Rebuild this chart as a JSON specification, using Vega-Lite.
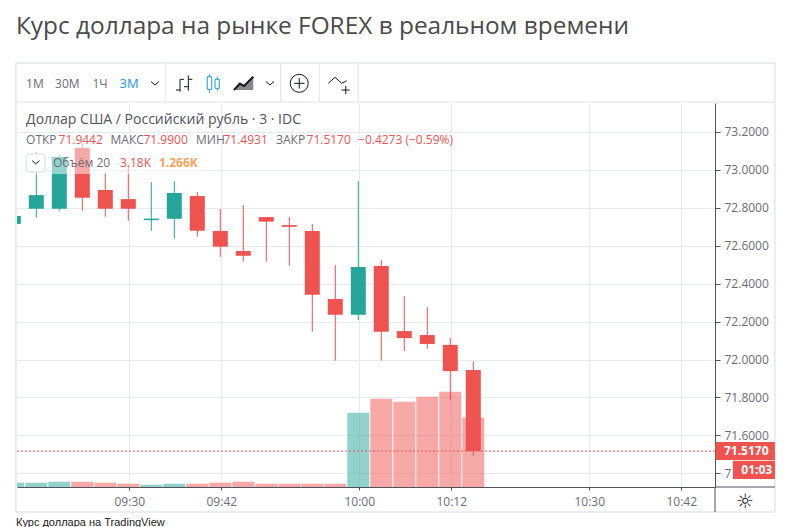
{
  "$schema": "https://vega.github.io/schema/vega-lite/v6.json",
  "width": 698,
  "height": 384,
  "autosize": "none",
  "padding": {"left": 17, "top": 103, "right": 78, "bottom": 40},
  "background": "white",
  "title": {
    "text": "Курс доллара на рынке FOREX в реальном времени",
    "anchor": "start",
    "frame": "group",
    "dx": -1,
    "offset": 4,
    "font": "Open Sans",
    "fontSize": 24.4,
    "fontWeight": "normal",
    "color": "#4a4a4a",
    "baseline": "alphabetic"
  },
  "config": {
    "view": {"stroke": null},
    "text": {"font": "Open Sans", "align": "left", "baseline": "middle"}
  },
  "datasets": {
    "candles": [
      {"t": "2020-03-10T09:15:00", "open": 72.715, "high": 72.757, "low": 72.715, "close": 72.757, "volume": 197, "dir": "up"},
      {"t": "2020-03-10T09:18:00", "open": 72.795, "high": 73.096, "low": 72.748, "close": 72.867, "volume": 197, "dir": "up"},
      {"t": "2020-03-10T09:21:00", "open": 72.795, "high": 73.08, "low": 72.785, "close": 73.068, "volume": 243, "dir": "up"},
      {"t": "2020-03-10T09:24:00", "open": 73.115, "high": 73.14, "low": 72.785, "close": 72.853, "volume": 243, "dir": "down"},
      {"t": "2020-03-10T09:27:00", "open": 72.894, "high": 72.989, "low": 72.753, "close": 72.795, "volume": 197, "dir": "down"},
      {"t": "2020-03-10T09:30:00", "open": 72.846, "high": 73.026, "low": 72.732, "close": 72.795, "volume": 150, "dir": "down"},
      {"t": "2020-03-10T09:33:00", "open": 72.735, "high": 72.936, "low": 72.679, "close": 72.743, "volume": 105, "dir": "up"},
      {"t": "2020-03-10T09:36:00", "open": 72.742, "high": 72.941, "low": 72.637, "close": 72.878, "volume": 150, "dir": "up"},
      {"t": "2020-03-10T09:39:00", "open": 72.862, "high": 72.883, "low": 72.648, "close": 72.679, "volume": 150, "dir": "down"},
      {"t": "2020-03-10T09:42:00", "open": 72.678, "high": 72.794, "low": 72.542, "close": 72.595, "volume": 197, "dir": "down"},
      {"t": "2020-03-10T09:45:00", "open": 72.572, "high": 72.815, "low": 72.516, "close": 72.547, "volume": 243, "dir": "down"},
      {"t": "2020-03-10T09:48:00", "open": 72.751, "high": 72.751, "low": 72.516, "close": 72.727, "volume": 150, "dir": "down"},
      {"t": "2020-03-10T09:51:00", "open": 72.709, "high": 72.751, "low": 72.495, "close": 72.7, "volume": 150, "dir": "down"},
      {"t": "2020-03-10T09:54:00", "open": 72.678, "high": 72.715, "low": 72.147, "close": 72.342, "volume": 150, "dir": "down"},
      {"t": "2020-03-10T09:57:00", "open": 72.319, "high": 72.498, "low": 71.994, "close": 72.236, "volume": 150, "dir": "down"},
      {"t": "2020-03-10T10:00:00", "open": 72.236, "high": 72.941, "low": 72.208, "close": 72.488, "volume": 3408, "dir": "up"},
      {"t": "2020-03-10T10:03:00", "open": 72.493, "high": 72.525, "low": 71.994, "close": 72.147, "volume": 4050, "dir": "down"},
      {"t": "2020-03-10T10:06:00", "open": 72.15, "high": 72.335, "low": 72.046, "close": 72.113, "volume": 3913, "dir": "down"},
      {"t": "2020-03-10T10:09:00", "open": 72.129, "high": 72.277, "low": 72.057, "close": 72.082, "volume": 4142, "dir": "down"},
      {"t": "2020-03-10T10:12:00", "open": 72.077, "high": 72.113, "low": 71.786, "close": 71.939, "volume": 4371, "dir": "down"},
      {"t": "2020-03-10T10:15:00", "open": 71.9442, "high": 71.99, "low": 71.4931, "close": 71.517, "volume": 3180, "dir": "down"}
    ],
    "frameLines": [
      {"t": "2020-03-10T09:15:13", "t2": "2020-03-10T10:54:13", "p": 73.3578, "p2": 73.3578},
      {"t": "2020-03-10T09:34:45", "t2": "2020-03-10T09:34:45", "p": 73.5635, "p2": 73.3578},
      {"t": "2020-03-10T09:49:45", "t2": "2020-03-10T09:49:45", "p": 73.5635, "p2": 73.3578},
      {"t": "2020-03-10T09:54:47", "t2": "2020-03-10T09:54:47", "p": 73.5635, "p2": 73.3578},
      {"t": "2020-03-10T09:59:52", "t2": "2020-03-10T09:59:52", "p": 73.5635, "p2": 73.3578}
    ],
    "axisLines": [
      {"t": "2020-03-10T10:46:24", "t2": "2020-03-10T10:54:13", "p": 71.3278, "p2": 71.3278},
      {"t": "2020-03-10T10:46:24", "t2": "2020-03-10T10:46:24", "p": 71.3278, "p2": 71.1959}
    ],
    "iconLines": [
      {"t": "2020-03-10T09:36:37", "t2": "2020-03-10T09:36:37", "p": 73.4775, "p2": 73.4121},
      {"t": "2020-03-10T09:36:05", "t2": "2020-03-10T09:36:37", "p": 73.4211, "p2": 73.4211},
      {"t": "2020-03-10T09:36:37", "t2": "2020-03-10T09:37:08", "p": 73.4775, "p2": 73.4775},
      {"t": "2020-03-10T09:37:42", "t2": "2020-03-10T09:37:42", "p": 73.4986, "p2": 73.4174},
      {"t": "2020-03-10T09:37:08", "t2": "2020-03-10T09:37:42", "p": 73.4385, "p2": 73.4385},
      {"t": "2020-03-10T09:37:42", "t2": "2020-03-10T09:38:13", "p": 73.4775, "p2": 73.4775},
      {"t": "2020-03-10T09:32:50", "t2": "2020-03-10T09:33:21", "p": 73.4659, "p2": 73.4475},
      {"t": "2020-03-10T09:33:21", "t2": "2020-03-10T09:33:52", "p": 73.4475, "p2": 73.4659},
      {"t": "2020-03-10T09:47:50", "t2": "2020-03-10T09:48:21", "p": 73.4659, "p2": 73.4475},
      {"t": "2020-03-10T09:48:21", "t2": "2020-03-10T09:48:52", "p": 73.4475, "p2": 73.4659},
      {"t": "2020-03-10T09:51:29", "t2": "2020-03-10T09:52:52", "p": 73.4564, "p2": 73.4564},
      {"t": "2020-03-10T09:52:10", "t2": "2020-03-10T09:52:10", "p": 73.4844, "p2": 73.4285},
      {"t": "2020-03-10T09:55:57", "t2": "2020-03-10T09:56:50", "p": 73.4564, "p2": 73.4881},
      {"t": "2020-03-10T09:56:50", "t2": "2020-03-10T09:57:42", "p": 73.4881, "p2": 73.4564},
      {"t": "2020-03-10T09:57:42", "t2": "2020-03-10T09:58:21", "p": 73.4564, "p2": 73.4701},
      {"t": "2020-03-10T09:57:41", "t2": "2020-03-10T09:58:45", "p": 73.4211, "p2": 73.4211},
      {"t": "2020-03-10T09:58:14", "t2": "2020-03-10T09:58:14", "p": 73.4422, "p2": 73.4}
    ],
    "candleIconWicks": [
      {"t": "2020-03-10T09:40:28", "t2": "2020-03-10T09:40:28", "p": 73.5055, "p2": 73.4069},
      {"t": "2020-03-10T09:41:28", "t2": "2020-03-10T09:41:28", "p": 73.4912, "p2": 73.4174}
    ],
    "candleIconBodies": [
      {"t": "2020-03-10T09:40:10", "t2": "2020-03-10T09:40:45", "p": 73.4912, "p2": 73.4248},
      {"t": "2020-03-10T09:41:11", "t2": "2020-03-10T09:41:44", "p": 73.4775, "p2": 73.43}
    ],
    "areaIcon": [
      {"t": "2020-03-10T09:43:39", "p": 73.4211, "p2": 73.4211},
      {"t": "2020-03-10T09:44:26", "p": 73.4553, "p2": 73.4211},
      {"t": "2020-03-10T09:44:58", "p": 73.4422, "p2": 73.4211},
      {"t": "2020-03-10T09:46:10", "p": 73.4912, "p2": 73.4211}
    ],
    "veils": [
      {"t": "2020-03-10T09:15:21", "t2": "2020-03-10T09:39:52", "p": 73.1153, "p2": 72.9782},
      {"t": "2020-03-10T09:15:21", "t2": "2020-03-10T10:13:08", "p": 73.1944, "p2": 73.1153}
    ],
    "priceTags": [
      {"t": "2020-03-10T10:46:28", "t2": "2020-03-10T10:54:13", "p": 71.565, "p2": 71.47},
      {"t": "2020-03-10T10:48:44", "t2": "2020-03-10T10:54:13", "p": 71.466, "p2": 71.37}
    ],
    "labelsGrey": [
      {"t": "2020-03-10T09:16:32", "p": 73.4553, "label": "1М"},
      {"t": "2020-03-10T09:20:19", "p": 73.4553, "label": "30М"},
      {"t": "2020-03-10T09:25:12", "p": 73.4553, "label": "1Ч"},
      {"t": "2020-03-10T09:16:32", "p": 73.1601, "label": "ОТКР"},
      {"t": "2020-03-10T09:27:33", "p": 73.1601, "label": "МАКС"},
      {"t": "2020-03-10T09:38:42", "p": 73.1601, "label": "МИН"},
      {"t": "2020-03-10T09:49:08", "p": 73.1601, "label": "ЗАКР"},
      {"t": "2020-03-10T09:20:03", "p": 73.0362, "label": "Объём 20"}
    ],
    "labelsRed": [
      {"t": "2020-03-10T09:20:46", "p": 73.1601, "label": "71.9442"},
      {"t": "2020-03-10T09:31:51", "p": 73.1601, "label": "71.9900"},
      {"t": "2020-03-10T09:42:17", "p": 73.1601, "label": "71.4931"},
      {"t": "2020-03-10T09:53:07", "p": 73.1601, "label": "71.5170"},
      {"t": "2020-03-10T09:59:50", "p": 73.1601, "label": "−0.4273 (−0.59%)"},
      {"t": "2020-03-10T09:28:47", "p": 73.0362, "label": "3.18K"}
    ],
    "labelsTagged": [
      {"t": "2020-03-10T10:47:34", "p": 71.5192, "label": "71.5170"},
      {"t": "2020-03-10T10:49:50", "p": 71.4174, "label": "01:03"}
    ]
  },
  "encoding": {
    "x": {
      "field": "t",
      "type": "temporal",
      "title": null,
      "scale": {
        "padding": 0,
        "domain": [
          {"year": 2020, "month": 3, "date": 10, "hours": 9, "minutes": 15, "seconds": 21},
          {"year": 2020, "month": 3, "date": 10, "hours": 10, "minutes": 46, "seconds": 24}
        ]
      },
      "axis": {
        "values": [
          {"year": 2020, "month": 3, "date": 10, "hours": 9, "minutes": 30},
          {"year": 2020, "month": 3, "date": 10, "hours": 9, "minutes": 42},
          {"year": 2020, "month": 3, "date": 10, "hours": 10, "minutes": 0},
          {"year": 2020, "month": 3, "date": 10, "hours": 10, "minutes": 12},
          {"year": 2020, "month": 3, "date": 10, "hours": 10, "minutes": 30},
          {"year": 2020, "month": 3, "date": 10, "hours": 10, "minutes": 42}
        ],
        "format": "%H:%M",
        "labelFont": "Open Sans",
        "labelFontSize": 12,
        "labelColor": "#6a6d78",
        "labelPadding": 6,
        "tickSize": 3,
        "tickColor": "#50535e",
        "domainColor": "#50535e",
        "gridColor": "#e6ebef",
        "grid": true
      }
    }
  },
  "layer": [
    {
      "data": {"name": "candles"},
      "mark": {"type": "bar", "size": 22, "opacity": 0.5, "xOffset": -1, "clip": true},
      "encoding": {
        "y": {"field": "volume", "type": "quantitative", "axis": null, "scale": {"domain": [0, 17615], "nice": false}},
        "color": {"field": "dir", "type": "nominal", "legend": null, "scale": {"domain": ["up", "down"], "range": ["#26a69a", "#ef5350"]}}
      }
    },
    {
      "encoding": {
        "y": {
          "field": "p",
          "type": "quantitative",
          "title": null,
          "scale": {"domain": [71.3278, 73.3526], "nice": false, "zero": false},
          "axis": {
            "orient": "right",
            "values": [71.4, 71.6, 71.8, 72.0, 72.2, 72.4, 72.6, 72.8, 73.0, 73.2],
            "format": ".4f",
            "labelFont": "Open Sans",
            "labelFontSize": 12,
            "labelColor": "#6a6d78",
            "labelPadding": 4,
            "tickSize": 5,
            "tickColor": "#50535e",
            "domainColor": "#50535e",
            "gridColor": "#e6ebef",
            "grid": true
          }
        }
      },
      "layer": [
        {
          "data": {"name": "candles"},
          "mark": {"type": "rule", "strokeWidth": 1, "xOffset": -1, "clip": true},
          "encoding": {
            "y": {"field": "low", "type": "quantitative", "title": null, "scale": {"domain": [71.3278, 73.3526], "nice": false, "zero": false}},
            "y2": {"field": "high"},
            "color": {"field": "dir", "type": "nominal", "legend": null, "scale": {"domain": ["up", "down"], "range": ["#26a69a", "#ef5350"]}}
          }
        },
        {
          "data": {"name": "candles"},
          "mark": {"type": "bar", "size": 15, "xOffset": -1, "clip": true},
          "encoding": {
            "y": {"field": "open", "type": "quantitative", "title": null, "scale": {"domain": [71.3278, 73.3526], "nice": false, "zero": false}},
            "y2": {"field": "close"},
            "color": {"field": "dir", "type": "nominal", "legend": null, "scale": {"domain": ["up", "down"], "range": ["#26a69a", "#ef5350"]}}
          }
        },
        {
          "data": {"values": [{"t": "2020-03-10T09:15:21", "t2": "2020-03-10T10:46:24", "p": 71.517}]},
          "mark": {"type": "rule", "color": "#ef5350", "strokeDash": [2, 2], "strokeWidth": 1},
          "encoding": {"x2": {"field": "t2"}}
        },
        {
          "data": {"name": "veils"},
          "mark": {"type": "rect", "fill": "white", "opacity": 0.5},
          "encoding": {"x2": {"field": "t2"}, "y2": {"field": "p2"}}
        },
        {
          "data": {"values": [{"t": "2020-03-10T09:15:13", "t2": "2020-03-10T10:54:13", "p": 73.5635, "p2": 71.1959}]},
          "mark": {"type": "rect", "fillOpacity": 0, "stroke": "#d6dce0", "strokeWidth": 1},
          "encoding": {"x2": {"field": "t2"}, "y2": {"field": "p2"}}
        },
        {
          "data": {"name": "frameLines"},
          "mark": {"type": "rule", "color": "#e0e3eb", "strokeWidth": 1},
          "encoding": {"x2": {"field": "t2"}, "y2": {"field": "p2"}}
        },
        {
          "data": {"name": "axisLines"},
          "mark": {"type": "rule", "color": "#50535e", "strokeWidth": 1},
          "encoding": {"x2": {"field": "t2"}, "y2": {"field": "p2"}}
        },
        {
          "data": {"name": "priceTags"},
          "mark": {"type": "rect", "fill": "#ef5350"},
          "encoding": {"x2": {"field": "t2"}, "y2": {"field": "p2"}}
        },
        {
          "data": {"name": "labelsTagged"},
          "mark": {"type": "text", "color": "white", "fontSize": 12, "fontWeight": "bold"},
          "encoding": {"text": {"field": "label"}}
        },
        {
          "data": {"values": [{"t": "2020-03-10T09:16:32", "t2": "2020-03-10T09:19:00", "p": 73.0836, "p2": 72.9887}]},
          "mark": {"type": "rect", "fill": "white", "stroke": "#d6dce0", "cornerRadius": 3},
          "encoding": {"x2": {"field": "t2"}, "y2": {"field": "p2"}}
        },
        {
          "data": {
            "values": [
              {"t": "2020-03-10T09:17:19", "t2": "2020-03-10T09:17:47", "p": 73.0494, "p2": 73.0309},
              {"t": "2020-03-10T09:17:47", "t2": "2020-03-10T09:18:17", "p": 73.0309, "p2": 73.0494}
            ]
          },
          "mark": {"type": "rule", "color": "#131722", "strokeWidth": 1},
          "encoding": {"x2": {"field": "t2"}, "y2": {"field": "p2"}}
        },
        {
          "data": {"name": "iconLines"},
          "mark": {"type": "rule", "color": "#131722", "strokeWidth": 1},
          "encoding": {"x2": {"field": "t2"}, "y2": {"field": "p2"}}
        },
        {
          "data": {"name": "candleIconWicks"},
          "mark": {"type": "rule", "color": "#2196f3", "strokeWidth": 1},
          "encoding": {"x2": {"field": "t2"}, "y2": {"field": "p2"}}
        },
        {
          "data": {"name": "candleIconBodies"},
          "mark": {"type": "rect", "fill": "white", "stroke": "#2196f3", "strokeWidth": 1},
          "encoding": {"x2": {"field": "t2"}, "y2": {"field": "p2"}}
        },
        {
          "data": {"name": "areaIcon"},
          "mark": {"type": "area", "color": "#555555", "opacity": 0.7, "line": {"color": "#131722"}},
          "encoding": {"y2": {"field": "p2"}}
        },
        {
          "data": {"values": [{"t": "2020-03-10T09:52:10", "p": 73.4564}]},
          "mark": {"type": "point", "size": 324, "filled": false, "color": "#131722", "strokeWidth": 1, "opacity": 1}
        },
        {
          "data": {"name": "labelsGrey"},
          "mark": {"type": "text", "color": "#6a6d78", "fontSize": 12},
          "encoding": {"text": {"field": "label"}}
        },
        {
          "data": {"name": "labelsRed"},
          "mark": {"type": "text", "color": "#ef5350", "fontSize": 12},
          "encoding": {"text": {"field": "label"}}
        },
        {
          "data": {"values": [{"t": "2020-03-10T09:33:52", "p": 73.0362, "label": "1.266K"}]},
          "mark": {"type": "text", "color": "#f7a35c", "fontSize": 12, "fontWeight": "bold"},
          "encoding": {"text": {"field": "label"}}
        },
        {
          "data": {"values": [{"t": "2020-03-10T09:28:43", "p": 73.4553, "label": "3М"}]},
          "mark": {"type": "text", "color": "#2196f3", "fontSize": 13},
          "encoding": {"text": {"field": "label"}}
        },
        {
          "data": {"values": [{"t": "2020-03-10T09:16:32", "p": 73.2629, "label": "Доллар США / Российский рубль · 3 · IDC"}]},
          "mark": {"type": "text", "color": "#50535e", "fontSize": 14},
          "encoding": {"text": {"field": "label"}}
        },
        {
          "data": {"values": [{"t": "2020-03-10T10:50:18", "p": 71.2487, "label": "☼"}]},
          "mark": {"type": "text", "color": "#131722", "fontSize": 20, "font": "DejaVu Sans", "align": "center"},
          "encoding": {"text": {"field": "label"}}
        },
        {
          "data": {"values": [{"t": "2020-03-10T09:15:13", "p": 71.1379, "label": "Курс доллара на TradingView"}]},
          "mark": {"type": "text", "color": "#222222", "fontSize": 11, "font": "Liberation Sans"},
          "encoding": {"text": {"field": "label"}}
        }
      ]
    }
  ],
  "resolve": {"scale": {"y": "independent"}}
}
